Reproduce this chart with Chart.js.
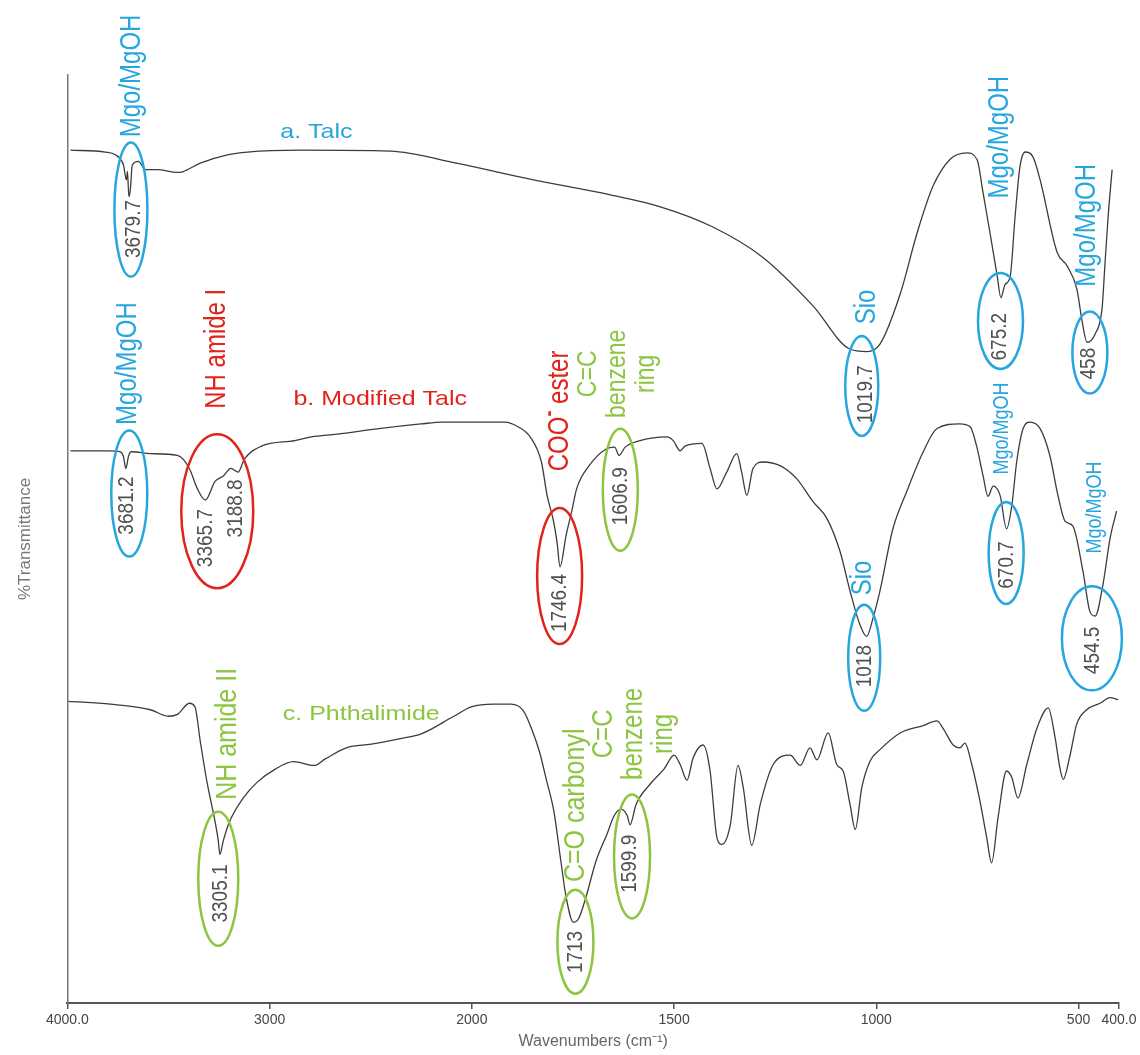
<!DOCTYPE html>
<html>
<head>
<meta charset="utf-8">
<script src="https://cdn.jsdelivr.net/npm/chart.js@4.4.0/dist/chart.umd.min.js"></script>
<style>
  html, body { margin: 0; padding: 0; background: #fff; }
</style>
</head>
<body>
<canvas id="ftirChart" width="1140" height="1055"></canvas>
<script>
// Tick positions on the wavenumber axis
const tickWavenumbers = [4000, 3000, 2000, 1500, 1000, 500, 400];
const tickLabels = ['4000.0', '3000', '2000', '1500', '1000', '500', '400.0'];

// a. Talc
const talcWavenumber = [3985, 3812, 3763, 3723, 3708, 3703, 3696, 3689, 3679, 3649, 3614, 3555, 3456, 3427, 3343, 3209, 3110, 2848, 2403, 2077,
  1848, 1660, 1534, 1408, 1282, 1156, 1067, 1023, 991, 941, 899, 860, 818, 776, 751, 736, 719, 701, 692, 682,
  669, 657, 645, 632, 613, 595, 553, 528, 504, 491, 479, 459, 442, 435, 427, 417];
const talcTransmittance = [91.9, 91.7, 91.4, 90.3, 88.7, 89.6, 86.9, 87.6, 90.3, 90.7, 89.8, 89.8, 89.5, 89.6, 90.5, 91.4, 91.7, 91.9, 91.8, 90.5,
  88.7, 87.1, 85.8, 83.7, 80.4, 75.1, 70.5, 70.2, 71.0, 76.4, 83.0, 88.0, 90.9, 91.6, 90.9, 87.3, 83.0, 78.3, 76.0, 77.4,
  78.3, 84.7, 90.1, 91.7, 91.2, 88.7, 80.9, 79.4, 76.9, 73.4, 71.2, 72.1, 74.8, 79.4, 84.7, 89.8];

// b. Modified Talc
const modWavenumber = [3985, 3792, 3738, 3723, 3711, 3698, 3684, 3590, 3456, 3397, 3357, 3318, 3270, 3229, 3191, 3156, 3125, 3041, 2875, 2794,
  2667, 2459, 2251, 2146, 1918, 1886, 1856, 1828, 1814, 1798, 1789, 1782, 1767, 1753, 1741, 1710, 1668, 1647, 1636, 1621,
  1584, 1518, 1502, 1485, 1473, 1431, 1411, 1394, 1370, 1345, 1333, 1320, 1305, 1280, 1238, 1197, 1156, 1122, 1090, 1065,
  1040, 1024, 1008, 991, 959, 925, 884, 850, 794, 768, 752, 736, 724, 711, 694, 678, 665, 653, 637, 620,
  595, 571, 551, 533, 514, 489, 472, 459, 440, 422, 406];
const modTransmittance = [59.5, 59.5, 59.4, 58.9, 57.6, 58.9, 59.4, 59.2, 59.0, 57.6, 55.4, 54.2, 56.2, 56.8, 57.6, 57.2, 58.6, 60.0, 60.6, 61.0,
  61.3, 61.9, 62.4, 62.6, 62.6, 62.1, 61.0, 58.3, 54.7, 51.9, 49.5, 47.0, 50.4, 53.0, 55.4, 57.9, 59.7, 59.9, 59.0, 59.9,
  60.6, 61.0, 60.6, 59.5, 60.0, 60.3, 57.6, 55.4, 57.2, 59.2, 57.2, 54.7, 57.6, 58.3, 57.9, 56.5, 54.0, 52.2, 48.7, 44.4,
  40.7, 39.5, 41.5, 44.4, 51.1, 55.1, 59.4, 61.9, 62.4, 62.1, 60.0, 56.8, 54.6, 55.7, 54.7, 51.1, 53.6, 58.3, 61.9, 62.6,
  61.9, 59.0, 54.7, 51.9, 51.4, 46.5, 42.2, 41.7, 45.0, 50.1, 53.0];

// c. Phthalimide
const phthWavenumber = [3995, 3787, 3590, 3501, 3456, 3397, 3369, 3343, 3308, 3273, 3254, 3246, 3229, 3201, 3130, 3061, 2972, 2883, 2779, 2725,
  2621, 2497, 2354, 2250, 2089, 2003, 1947, 1903, 1873, 1851, 1833, 1816, 1797, 1780, 1767, 1749, 1736, 1718, 1693, 1665,
  1648, 1631, 1616, 1609, 1594, 1559, 1525, 1500, 1485, 1468, 1453, 1428, 1411, 1394, 1382, 1361, 1342, 1329, 1308, 1287,
  1255, 1213, 1188, 1164, 1147, 1119, 1098, 1082, 1065, 1052, 1036, 1015, 991, 941, 884, 850, 835, 810, 793, 781,
  764, 744, 727, 715, 699, 678, 665, 650, 628, 603, 575, 558, 546, 538, 521, 505, 480, 447, 422, 402];
const phthTransmittance = [32.5, 32.2, 31.6, 30.9, 31.1, 32.3, 31.9, 28.2, 23.6, 19.9, 17.5, 16.0, 17.5, 19.4, 22.1, 23.8, 25.2, 26.0, 25.6, 26.3,
  27.5, 27.9, 28.5, 29.0, 30.9, 31.9, 32.2, 32.2, 31.5, 29.4, 27.1, 24.1, 20.6, 15.3, 11.4, 8.7, 9.1, 11.4, 15.3, 18.3,
  20.2, 20.9, 20.2, 19.2, 21.4, 23.6, 25.2, 26.7, 25.7, 24.0, 26.4, 27.8, 25.0, 17.8, 17.1, 19.2, 25.6, 23.2, 17.0, 21.4,
  25.7, 26.7, 25.6, 27.5, 26.2, 29.1, 25.7, 25.0, 21.4, 18.7, 23.2, 26.1, 27.3, 29.1, 29.9, 30.4, 29.6, 27.8, 27.5, 28.0,
  25.7, 21.8, 17.8, 15.1, 20.0, 25.0, 24.3, 22.1, 25.7, 29.6, 31.8, 28.6, 25.3, 24.1, 26.7, 30.0, 31.6, 32.3, 32.9, 32.7];

const BLUE = '#26a6de';
const RED = '#e2231a';
const GREEN = '#8cc540';
const GRAY = '#505050';
const STRETCH = 1.19; // the figure is slightly wider than tall

// Peak ellipses (anchored at wavenumber / %T, size in px)
const ellipseMarks = [
  { wn: 3686, t: 85.5, rx: 16.5, ry: 67, color: BLUE },
  { wn: 1036, t: 66.5, rx: 16.5, ry: 50, color: BLUE },
  { wn: 693, t: 73.5, rx: 22.5, ry: 48, color: BLUE },
  { wn: 472, t: 70.1, rx: 17.5, ry: 41, color: BLUE },
  { wn: 3694, t: 54.9, rx: 18, ry: 63, color: BLUE },
  { wn: 3259, t: 53.0, rx: 36, ry: 77, color: RED },
  { wn: 1783, t: 46.0, rx: 22.5, ry: 68, color: RED },
  { wn: 1633, t: 55.3, rx: 17.5, ry: 61, color: GREEN },
  { wn: 1030, t: 37.2, rx: 16, ry: 53, color: BLUE },
  { wn: 679, t: 48.5, rx: 17.5, ry: 51, color: BLUE },
  { wn: 467, t: 39.3, rx: 30, ry: 52, color: BLUE },
  { wn: 3254, t: 13.4, rx: 20, ry: 67, color: GREEN },
  { wn: 1744, t: 6.6, rx: 18, ry: 52, color: GREEN },
  { wn: 1604, t: 15.8, rx: 18, ry: 62, color: GREEN }
];

// Peak positions written inside the ellipses
const peakNumbers = [
  { text: '3679.7', wn: 3674, t: 83.4 }, { text: '1019.7', wn: 1025, t: 65.6 },
  { text: '675.2', wn: 694, t: 71.8 }, { text: '458', wn: 474, t: 68.9 },
  { text: '3681.2', wn: 3708, t: 53.6 }, { text: '3365.7', wn: 3318, t: 50.1 },
  { text: '3188.8', wn: 3165, t: 53.3 }, { text: '1746.4', wn: 1782, t: 43.1 },
  { text: '1606.9', wn: 1633, t: 54.6 }, { text: '1018', wn: 1028, t: 36.3 },
  { text: '670.7', wn: 677, t: 47.2 }, { text: '454.5', wn: 464, t: 38.0 },
  { text: '3305.1', wn: 3244, t: 11.8 }, { text: '1713', wn: 1744, t: 5.5 },
  { text: '1599.9', wn: 1609, t: 15.0 }
];

// Band assignments, written vertically ({..} = superscript)
const bandLabels = [
  { lines: ['Mgo/MgOH'], wn: 3679, t: 99.9, size: 24, color: BLUE },
  { lines: ['Sio'], wn: 1023, t: 75.0, size: 24, color: BLUE },
  { lines: ['Mgo/MgOH'], wn: 694, t: 93.3, size: 24, color: BLUE },
  { lines: ['Mgo/MgOH'], wn: 479, t: 83.8, size: 24, color: BLUE },
  { lines: ['Mgo/MgOH'], wn: 3698, t: 68.9, size: 24, color: BLUE },
  { lines: ['NH amide I'], wn: 3259, t: 70.5, size: 24, color: RED },
  { lines: ['COO{-} ester'], wn: 1782, t: 63.8, size: 24, color: RED },
  { lines: ['C=C', 'benzene', 'ring'], wn: 1641, t: 67.8, size: 23, color: GREEN, gap: 29 },
  { lines: ['Sio'], wn: 1033, t: 45.8, size: 24, color: BLUE },
  { lines: ['Mgo/MgOH'], wn: 689, t: 61.9, size: 18, color: BLUE },
  { lines: ['Mgo/MgOH'], wn: 459, t: 53.4, size: 18, color: BLUE },
  { lines: ['NH amide II'], wn: 3209, t: 29.0, size: 25, color: GREEN },
  { lines: ['C=O carbonyl'], wn: 1744, t: 21.3, size: 25, color: GREEN },
  { lines: ['C=C', 'benzene', 'ring'], wn: 1599, t: 29.0, size: 24, color: GREEN, gap: 30 }
];

const seriesTitles = [
  { text: 'a. Talc', wn: 2769, t: 93.8, color: BLUE },
  { text: 'b. Modified Talc', wn: 2453, t: 65.1, color: RED },
  { text: 'c. Phthalimide', wn: 2547, t: 31.1, color: GREEN }
];

// The spectrometer plot expands the range below 2000 cm-1 two times
function toAxis(wn) {
  return wn >= 2000 ? (4000 - wn) / 2 : 1000 + (2000 - wn);
}

function toPoints(wavenumbers, values) {
  return wavenumbers.map((wn, i) => ({ x: toAxis(wn), y: values[i] }));
}

function fontOf(size, bold) {
  return (bold ? 'bold ' : '') + size + 'px "Liberation Sans", Arial, sans-serif';
}

// draw text with {..} parts as superscript, centered on (0, y)
function drawRich(ctx, line, y, size) {
  const parts = [];
  line.split(/(\{[^}]*\})/).forEach(p => {
    if (!p) return;
    if (p[0] === '{') parts.push({ text: p.slice(1, -1), sup: true });
    else parts.push({ text: p, sup: false });
  });
  let total = 0;
  parts.forEach(p => {
    ctx.font = p.sup ? fontOf(Math.round(size * 0.75), true) : fontOf(size);
    p.width = ctx.measureText(p.text).width;
    total += p.width;
  });
  let x = -total / 2;
  ctx.textAlign = 'left';
  parts.forEach(p => {
    ctx.font = p.sup ? fontOf(Math.round(size * 0.75), true) : fontOf(size);
    ctx.fillText(p.text, x, p.sup ? y - size * 0.38 : y);
    x += p.width;
  });
}

const annotationPlugin = {
  id: 'peakAnnotations',
  afterDatasetsDraw(chart) {
    const ctx = chart.ctx;
    const xs = chart.scales.x;
    const ys = chart.scales.y;
    const px = wn => xs.getPixelForValue(toAxis(wn));
    const py = t => ys.getPixelForValue(t);

    ctx.save();
    ctx.lineWidth = 2.5;
    ellipseMarks.forEach(e => {
      ctx.strokeStyle = e.color;
      ctx.beginPath();
      ctx.ellipse(px(e.wn), py(e.t), e.rx, e.ry, 0, 0, Math.PI * 2);
      ctx.stroke();
    });

    ctx.textBaseline = 'middle';
    const vertical = (x, y, lines, size, color, gap) => {
      ctx.save();
      ctx.translate(x, y);
      ctx.scale(STRETCH, 1);
      ctx.rotate(-Math.PI / 2);
      ctx.fillStyle = color;
      lines.forEach((line, i) => {
        const off = (i - (lines.length - 1) / 2) * (gap || 0) / STRETCH;
        drawRich(ctx, line, off, size);
      });
      ctx.restore();
    };

    peakNumbers.forEach(n => vertical(px(n.wn), py(n.t), [n.text], 19, GRAY));
    bandLabels.forEach(l => vertical(px(l.wn), py(l.t), l.lines, l.size, l.color, l.gap));

    seriesTitles.forEach(s => {
      ctx.save();
      ctx.translate(px(s.wn), py(s.t));
      ctx.scale(STRETCH, 1);
      ctx.fillStyle = s.color;
      ctx.font = fontOf(21);
      ctx.textAlign = 'center';
      ctx.fillText(s.text, 0, 0);
      ctx.restore();
    });
    ctx.restore();
  }
};

const lineStyle = {
  borderColor: '#3c3c3c',
  borderWidth: 1.3,
  pointRadius: 0,
  fill: false,
  cubicInterpolationMode: 'monotone'
};

new Chart(document.getElementById('ftirChart').getContext('2d'), {
  type: 'line',
  data: {
    datasets: [
      { label: 'a. Talc', data: toPoints(talcWavenumber, talcTransmittance), ...lineStyle },
      { label: 'b. Modified Talc', data: toPoints(modWavenumber, modTransmittance), ...lineStyle },
      { label: 'c. Phthalimide', data: toPoints(phthWavenumber, phthTransmittance), ...lineStyle }
    ]
  },
  options: {
    responsive: false,
    animation: false,
    devicePixelRatio: 1,
    layout: { padding: { top: 75, right: 21, left: 0, bottom: 0 } },
    plugins: {
      legend: { display: false },
      tooltip: { enabled: false }
    },
    scales: {
      x: {
        type: 'linear',
        min: 0,
        max: 2600,
        afterBuildTicks: axis => {
          axis.ticks = tickWavenumbers.map(wn => ({ value: toAxis(wn) }));
        },
        ticks: {
          autoSkip: false,
          maxRotation: 0,
          padding: 3,
          color: '#444',
          font: { family: 'Liberation Sans', size: 14 },
          callback: (value, index) => tickLabels[index]
        },
        grid: { drawOnChartArea: false, drawTicks: true, tickLength: 6, color: '#555', lineWidth: 1.5 },
        border: { display: true, color: '#555', width: 2 },
        title: {
          display: true,
          text: 'Wavenumbers (cm\u207B\u00B9)',
          color: '#666',
          font: { family: 'Liberation Sans', size: 16 },
          padding: { top: 0, bottom: 4 }
        }
      },
      y: {
        min: 0,
        max: 100,
        ticks: { display: false },
        grid: { display: false, drawTicks: false },
        border: { display: true, color: '#777', width: 1.5 },
        title: {
          display: true,
          text: '%Transmittance',
          color: '#777',
          font: { family: 'Liberation Sans', size: 17 },
          padding: { top: 15, bottom: 32 }
        }
      }
    }
  },
  plugins: [annotationPlugin]
});
</script>
</body>
</html>
